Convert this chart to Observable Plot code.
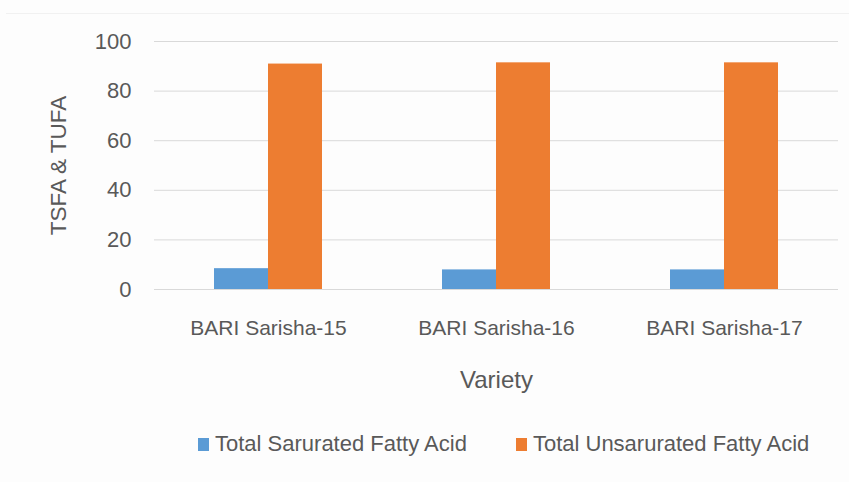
<!DOCTYPE html>
<html>
<head>
<meta charset="utf-8">
<script src="https://cdn.jsdelivr.net/npm/d3@7"></script>
<script src="https://cdn.jsdelivr.net/npm/@observablehq/plot@0.6"></script>
<style>
  html, body { margin: 0; padding: 0; background: #ffffff; }
  #wrap { position: relative; width: 849px; height: 482px; background: #fdfdfd; font-family: "Liberation Sans", Arial, sans-serif; color: #595959; }
  #edge { position: absolute; left: 6px; right: 0; top: 13px; height: 1px; background: #f1f1f1; }
  #legend { position: absolute; left: 198px; top: 432px; display: flex; align-items: center; font-size: 22px; line-height: 24px; color: #595959; }
  .item { display: flex; align-items: center; }
  .sw { width: 11px; height: 13px; margin-right: 6px; }
</style>
</head>
<body>
<div id="wrap"><div id="edge"></div><div id="chart"></div><div id="legend"></div></div>
<script>
const varieties = ["BARI Sarisha-15", "BARI Sarisha-16", "BARI Sarisha-17"];
const seriesNames = ["Total Sarurated Fatty Acid", "Total Unsarurated Fatty Acid"];
const tsfa = [8.4, 7.9, 7.9];
const tufa = [90.9, 91.4, 91.4];
const yTicks = [0, 20, 40, 60, 80, 100];
const colors = ["#5B9BD5", "#ED7D31"];
const yTitle = "TSFA & TUFA";
const xTitle = "Variety";

const data = varieties.flatMap((v, i) => [
  {variety: v, series: seriesNames[0], value: tsfa[i]},
  {variety: v, series: seriesNames[1], value: tufa[i]}
]);

const chart = Plot.plot({
  width: 849,
  height: 400,
  marginLeft: 154,
  marginRight: 11,
  marginTop: 41,
  marginBottom: 111,
  style: {background: "transparent", color: "#595959", fontFamily: "'Liberation Sans', Arial, sans-serif"},
  fx: {domain: varieties, padding: 0},
  x: {domain: seriesNames, paddingInner: 0, paddingOuter: 1.111, axis: null},
  y: {domain: [0, 100]},
  color: {domain: seriesNames, range: colors},
  marks: [
    Plot.gridY(yTicks, {stroke: "#d9d9d9", strokeOpacity: 1, strokeWidth: 1}),
    Plot.axisY(yTicks, {tickSize: 0, tickPadding: 23, fontSize: 22, tickFormat: d => String(d),
      label: yTitle, labelAnchor: "center", labelOffset: 104, labelArrow: "none"}),
    Plot.axisFx({anchor: "bottom", tickSize: 0, tickPadding: 31, fontSize: 21,
      label: xTitle, labelAnchor: "center", labelOffset: 98, labelArrow: "none"}),
    Plot.barY(data, {fx: "variety", x: "series", y: "value", fill: "series"})
  ]
});
document.getElementById("chart").appendChild(chart);

// title font sizes (axis titles are slightly larger than tick labels)
d3.select(chart).selectAll('g[aria-label="y-axis label"]').attr("font-size", 22.5);
d3.select(chart).selectAll('g[aria-label="fx-axis label"]').attr("font-size", 24);

const legend = document.getElementById("legend");
seriesNames.forEach((s, i) => {
  const item = document.createElement("div");
  item.className = "item";
  if (i > 0) item.style.marginLeft = "49px";
  const sw = document.createElement("div");
  sw.className = "sw";
  sw.style.background = colors[i];
  const t = document.createElement("span");
  t.textContent = s;
  item.appendChild(sw);
  item.appendChild(t);
  legend.appendChild(item);
});
</script>
</body>
</html>
